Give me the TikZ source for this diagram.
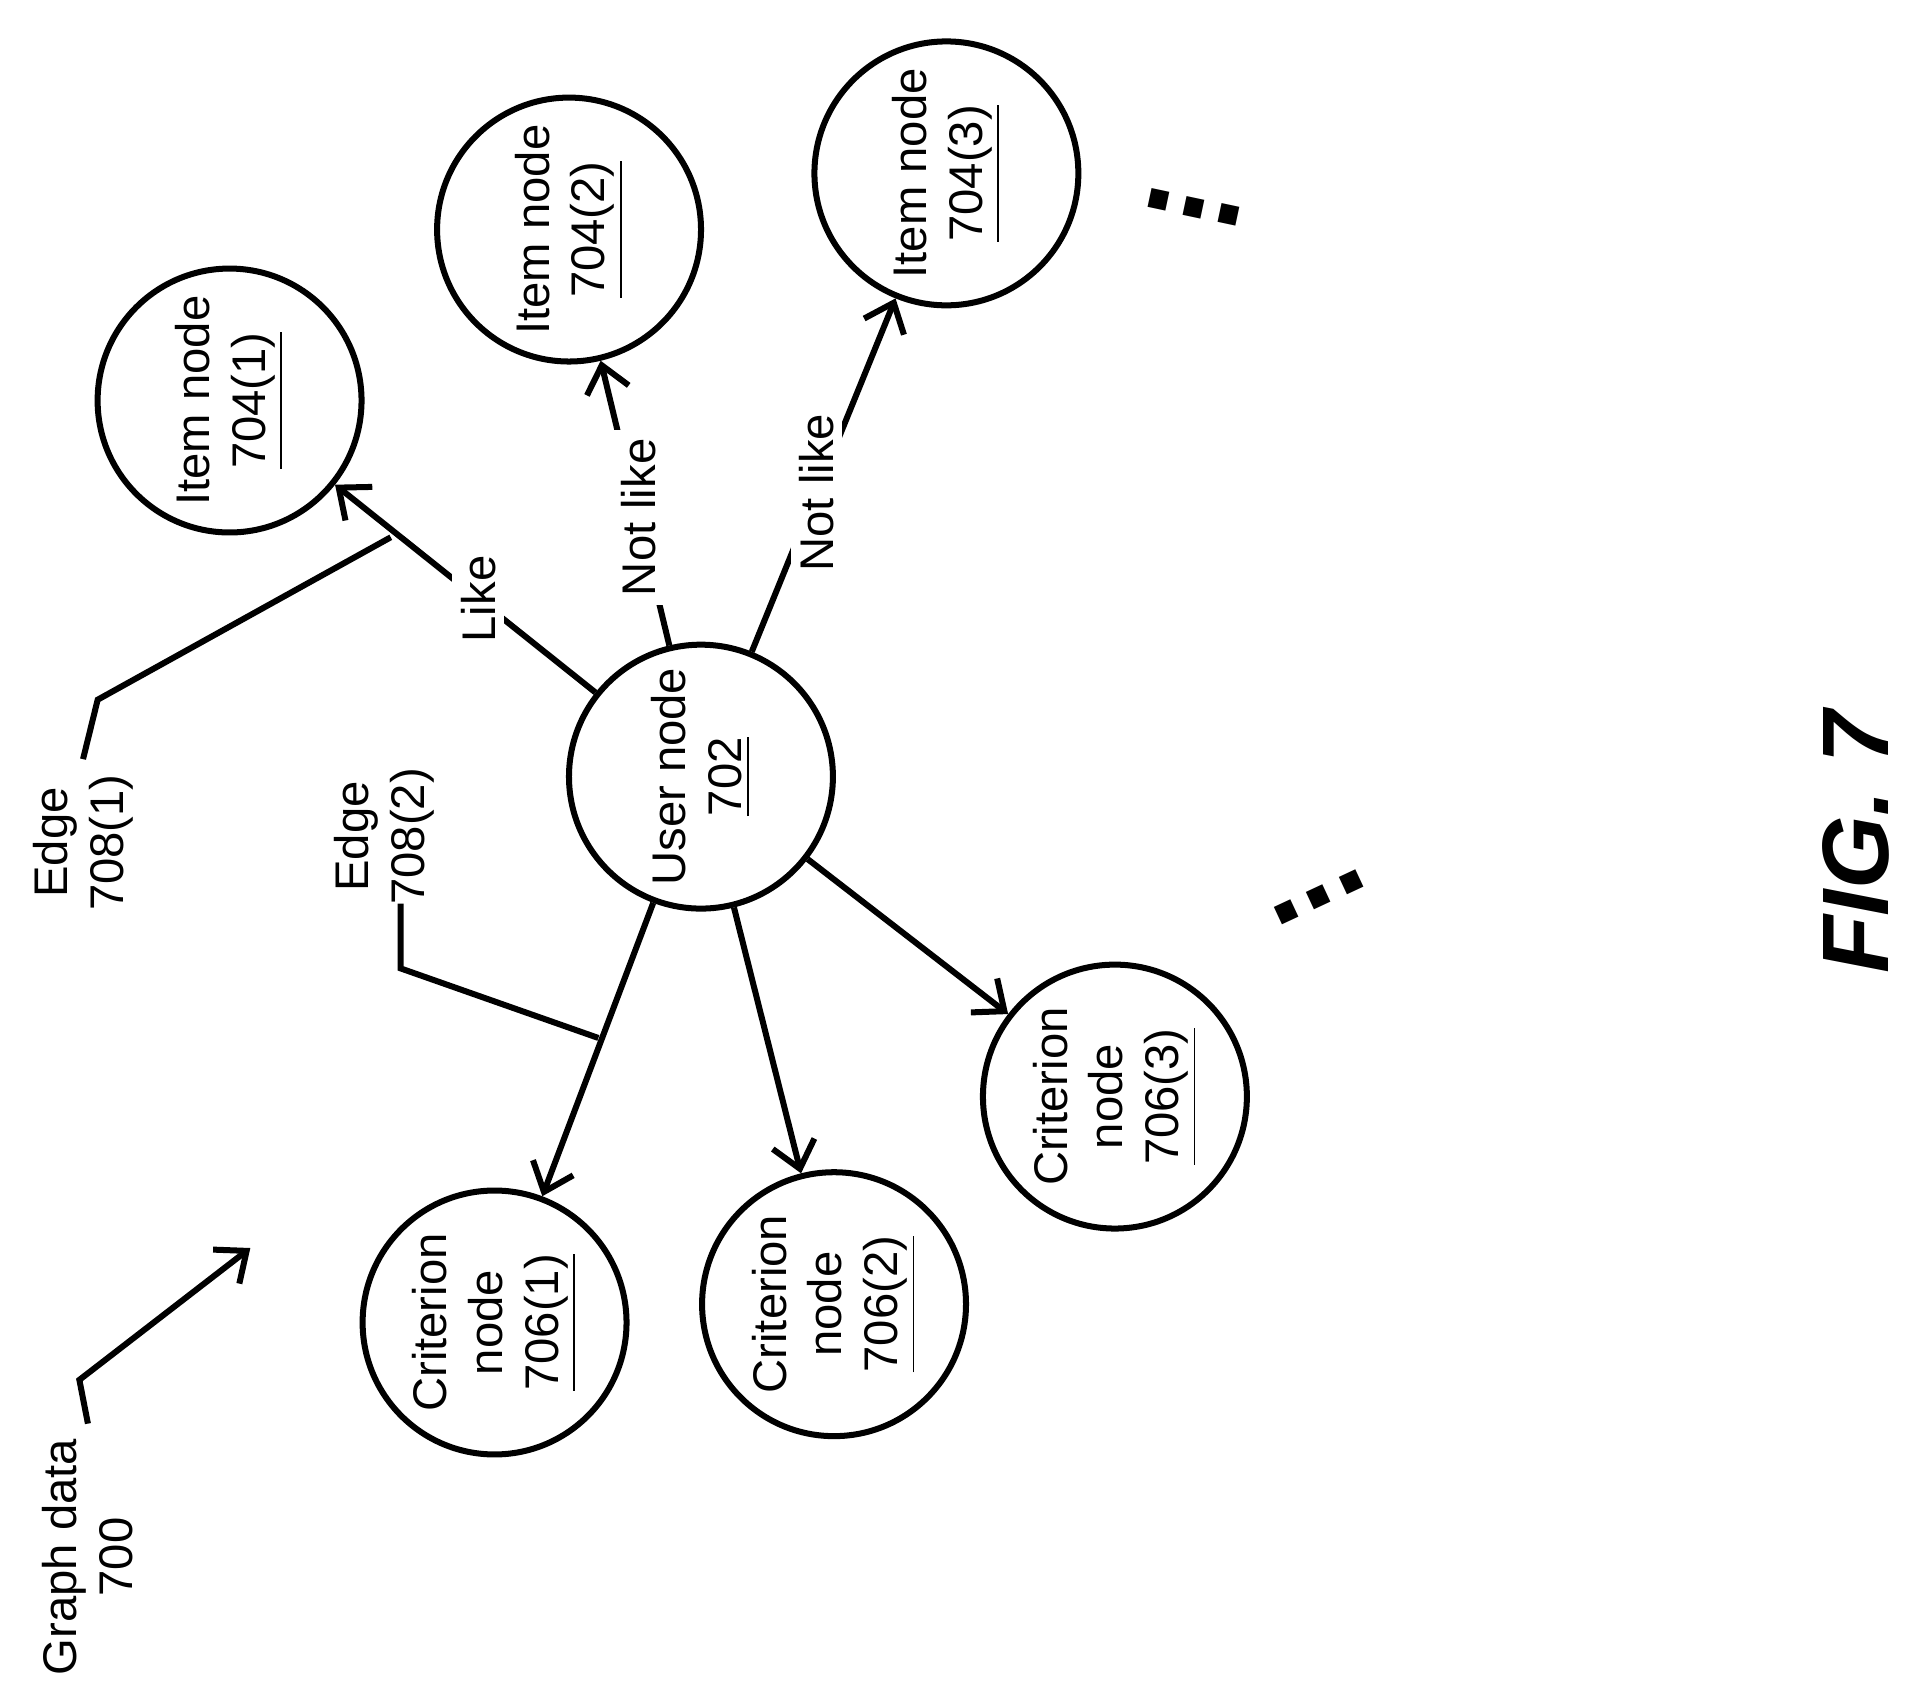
\documentclass[tikz,border=0pt]{standalone}
\usepackage{fontspec}
\setmainfont{Liberation Sans}
\usetikzlibrary{positioning,arrows.meta}
\begin{document}
\begin{tikzpicture}[x=0.01cm,y=-0.01cm,
    gnode/.style={draw,circle,line width=1.4pt,minimum size=2.16cm,inner sep=0pt,
                  rotate=90,align=center,font=\fontsize{11}{13}\selectfont},
    txt/.style={rotate=90,align=center,font=\fontsize{11}{13}\selectfont},
    lbl/.style={txt,fill=white,inner sep=2pt},
    link/.style={line width=1.4pt,-{Straight Barb[length=6pt,width=10pt]}},
    lead/.style={line width=1.4pt}
  ]
  \useasboundingbox (0,0) rectangle (1560,1380);
  % nodes
  \node[gnode] (user) at (574,636) {User node\\\underline{702}};
  \node[gnode] (item1) at (188,328) {Item node\\\underline{704(1)}};
  \node[gnode] (item2) at (466,188) {Item node\\\underline{704(2)}};
  \node[gnode] (item3) at (775,142) {Item node\\\underline{704(3)}};
  \node[gnode] (crit1) at (405,1083) {Criterion\\node\\\underline{706(1)}};
  \node[gnode] (crit2) at (683,1068) {Criterion\\node\\\underline{706(2)}};
  \node[gnode] (crit3) at (913,898) {Criterion\\node\\\underline{706(3)}};
  % edges
  \draw[link] (user) -- node[lbl,pos=0.45] (like) {Like} (item1);
  \draw[link] (user) -- node[lbl,pos=0.45] (nl2) {Not like} (item2);
  \draw[link] (user) -- node[lbl,pos=0.45] (nl3) {Not like} (item3);
  \draw[link] (user) -- (crit1);
  \draw[link] (user) -- (crit2);
  \draw[link] (user) -- (crit3);
  % callouts
  \node[txt] (e1) at (68,690) {Edge\\708(1)};
  \node[txt] (e2) at (315,685) {Edge\\708(2)};
  \node[txt] (gd) at (72,1275) {Graph data\\700};
  \coordinate (e1a) at (80,573);
  \coordinate (e1b) at (320,440);
  \coordinate (e2s) at (328,740);
  \coordinate (e2a) at (328,793);
  \coordinate (e2b) at (490,850);
  \coordinate (gda) at (65,1130);
  \coordinate (gdb) at (205,1022);
  \draw[lead] (e1.east) -- (e1a) -- (e1b);
  \draw[lead] (e2s) -- (e2a) -- (e2b);
  \draw[lead,-{Straight Barb[length=6pt,width=10pt]}] (gd.east) -- (gda) -- (gdb);
  % continuation marks
  \node[rotate=-12,font=\fontsize{30}{30}\selectfont\bfseries] (dots1) at (978,170) {...};
  \node[rotate=25,font=\fontsize{30}{30}\selectfont\bfseries] (dots2) at (1080,735) {...};
  \node[txt,font=\fontsize{22}{26}\selectfont\bfseries\itshape] (fig) at (1520,690) {FIG. 7};
\end{tikzpicture}
\end{document}
